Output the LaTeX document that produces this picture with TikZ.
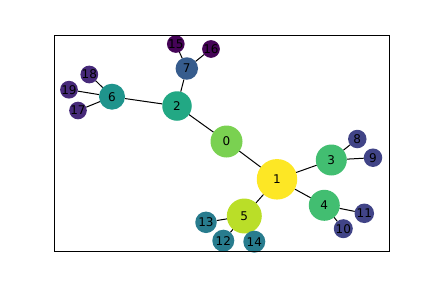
\documentclass[tikz,border=0pt]{standalone}
\usepackage{fontspec}
\setmainfont{DejaVu Sans}
\usetikzlibrary{backgrounds}

\definecolor{c0}{HTML}{7AD151}
\definecolor{c1}{HTML}{FDE725}
\definecolor{c2}{HTML}{22A884}
\definecolor{c3}{HTML}{42BE71}
\definecolor{c5}{HTML}{BADE28}
\definecolor{c6}{HTML}{1F948C}
\definecolor{c7}{HTML}{365C8D}
\definecolor{cleaf}{HTML}{414487}
\definecolor{cmid}{HTML}{287C8E}
\definecolor{cpurp}{HTML}{472A7A}
\definecolor{cdark}{HTML}{450457}

\begin{document}
\begin{tikzpicture}[x=1bp, y=-1bp,
    vertex/.style={circle, inner sep=0pt, outer sep=0pt, text=black, font=\fontsize{12bp}{14bp}\selectfont},
    link/.style={black, line width=1bp}]
    \useasboundingbox (0,0) rectangle (432,288);

    % Draw nodes
    \node[vertex, fill=c0, minimum size=32bp] (0) at (226.5,141.5) {0};
    \node[vertex, fill=c1, minimum size=40.5bp] (1) at (277,179.3) {1};
    \node[vertex, fill=c2, minimum size=29.5bp] (2) at (177,106) {2};
    \node[vertex, fill=c3, minimum size=31bp] (3) at (331.3,160) {3};
    \node[vertex, fill=c3, minimum size=31bp] (4) at (324.3,205.3) {4};
    \node[vertex, fill=c5, minimum size=35bp] (5) at (244.3,216) {5};
    \node[vertex, fill=c6, minimum size=26bp] (6) at (112,96.7) {6};
    \node[vertex, fill=c7, minimum size=22.5bp] (7) at (186.8,68.5) {7};
    \node[vertex, fill=cleaf, minimum size=18.5bp] (8) at (357.3,139) {8};
    \node[vertex, fill=cleaf, minimum size=18.5bp] (9) at (373,157.7) {9};
    \node[vertex, fill=cleaf, minimum size=19bp] (10) at (343.3,228.7) {10};
    \node[vertex, fill=cleaf, minimum size=19.5bp] (11) at (364.3,213.3) {11};
    \node[vertex, fill=cmid, minimum size=22bp] (12) at (223.3,240.7) {12};
    \node[vertex, fill=cmid, minimum size=21.5bp] (13) at (206,222.3) {13};
    \node[vertex, fill=cmid, minimum size=22bp] (14) at (254.3,241.7) {14};
    \node[vertex, fill=cdark, minimum size=14.5bp] (15) at (175.8,44) {15};
    \node[vertex, fill=cdark, minimum size=14.5bp] (16) at (211,49) {16};
    \node[vertex, fill=cpurp, minimum size=16bp] (17) at (78,110.5) {17};
    \node[vertex, fill=cpurp, minimum size=16bp] (18) at (89.3,74.5) {18};
    \node[vertex, fill=cpurp, minimum size=16bp] (19) at (69,89.7) {19};

    % Draw connections
    \begin{scope}[on background layer]
        \draw[link] (0) -- (1);
        \draw[link] (0) -- (2);
        \draw[link] (1) -- (3);
        \draw[link] (1) -- (4);
        \draw[link] (1) -- (5);
        \draw[link] (2) -- (6);
        \draw[link] (2) -- (7);
        \draw[link] (3) -- (8);
        \draw[link] (3) -- (9);
        \draw[link] (4) -- (10);
        \draw[link] (4) -- (11);
        \draw[link] (5) -- (12);
        \draw[link] (5) -- (13);
        \draw[link] (5) -- (14);
        \draw[link] (6) -- (17);
        \draw[link] (6) -- (18);
        \draw[link] (6) -- (19);
        \draw[link] (7) -- (15);
        \draw[link] (7) -- (16);
    \end{scope}

    % Frame
    \draw[line width=0.8bp] (54.3,35.3) rectangle (389,251.7);
\end{tikzpicture}
\end{document}
